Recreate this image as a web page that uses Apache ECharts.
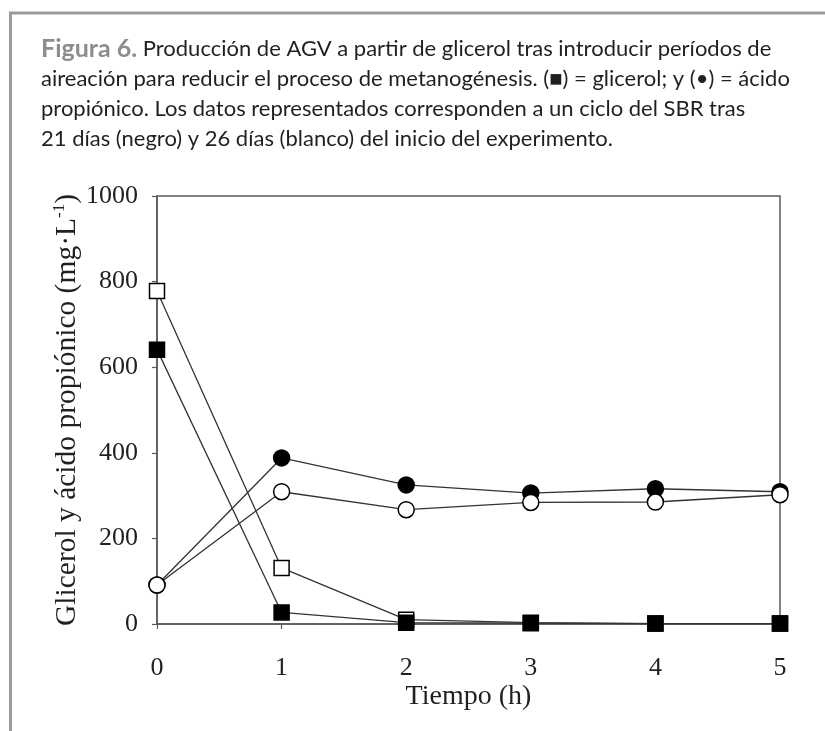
<!DOCTYPE html>
<html>
<head>
<meta charset="utf-8">
<script src="https://cdn.jsdelivr.net/npm/echarts@6/dist/echarts.min.js"></script>
<style>
html,body{margin:0;padding:0;background:#fff;}
#chart{width:825px;height:731px;}
</style>
</head>
<body>
<div id="chart"></div>
<script>
// Time (h)
const tiempo = [0, 1, 2, 3, 4, 5];
// Glicerol (mg/L)
const glicerol21 = [641, 27, 3, 2, 1, 1];      // negro (día 21)
const glicerol26 = [778, 131, 10, 3, 1, 1];    // blanco (día 26)
// Ácido propiónico (mg/L)
const propionico21 = [91, 388, 325, 306, 316, 309]; // negro
const propionico26 = [91, 309, 267, 284, 285, 302]; // blanco

const xTicks = [0, 1, 2, 3, 4, 5];
const yTicks = [0, 200, 400, 600, 800, 1000];

const captionLines = [
  'Producción de AGV a partir de glicerol tras introducir períodos de',
  'aireación para reducir el proceso de metanogénesis. (\u25A0) = glicerol; y (\u2022) = ácido',
  'propiónico. Los datos representados corresponden a un ciclo del SBR tras',
  '21 días (negro) y 26 días (blanco) del inicio del experimento.'
];

const pairs = arr => tiempo.map((t, i) => [t, arr[i]]);

const chart = echarts.init(document.getElementById('chart'), null, {renderer: 'canvas'});
const serif = 'Liberation Serif';
const ink = '#231f20';
const lineColor = '#333';

function mk(name, data, symbol, filled, size) {
  return {
    name, type: 'line', data: pairs(data),
    symbol, symbolSize: size, showSymbol: true,
    lineStyle: {color: lineColor, width: 1.3},
    itemStyle: {color: filled ? '#000' : '#fff', borderColor: '#000', borderWidth: 1.5, opacity: 1},
    emphasis: {disabled: true},
    animation: false
  };
}

chart.setOption({
  animation: false,
  backgroundColor: '#fff',
  title: {
    left: 36, top: 29,
    text: '{b|Figura 6.}{t| ' + captionLines[0] + '}\n' +
          captionLines.slice(1).map(l => '{t|' + l + '}').join('\n'),
    textStyle: {
      fontWeight: 'normal',
      rich: {
        b: {fontFamily: 'Lato', fontWeight: 'bold', fontSize: 25, color: '#8d8d8d', lineHeight: 30},
        t: {fontFamily: 'Lato', fontWeight: 'normal', fontSize: 22, color: ink, lineHeight: 30}
      }
    }
  },
  graphic: [
    {type: 'line', shape: {x1: 9, y1: 13, x2: 825, y2: 13}, style: {stroke: '#9a9a9a', lineWidth: 3}},
    {type: 'line', shape: {x1: 10.5, y1: 12, x2: 10.5, y2: 731}, style: {stroke: '#9a9a9a', lineWidth: 3}}
  ],
  grid: {left: 157, right: 45, top: 196, bottom: 107, outerBoundsMode: 'none', containLabel: false,
         show: true, borderColor: '#5a5a5a', borderWidth: 1.5, backgroundColor: 'transparent'},
  xAxis: {
    type: 'value', min: xTicks[0], max: xTicks[xTicks.length - 1], interval: 1,
    name: 'Tiempo (h)', nameLocation: 'middle', nameGap: 59, nameMoveOverlap: false,
    nameTextStyle: {fontFamily: serif, fontSize: 28, color: ink},
    axisLine: {lineStyle: {color: '#5a5a5a', width: 1.5}},
    axisTick: {show: true, inside: false, length: 5, lineStyle: {color: '#5a5a5a', width: 1.2}},
    axisLabel: {fontFamily: serif, fontSize: 26, color: ink, margin: 31},
    splitLine: {show: false}
  },
  yAxis: {
    type: 'value', min: yTicks[0], max: yTicks[yTicks.length - 1], interval: 200,
    name: '{n|Glicerol y ácido propiónico (mg·L}{s|-1}{n|)}',
    nameLocation: 'middle', nameGap: 74, nameMoveOverlap: false,
    nameTextStyle: {
      rich: {
        n: {fontFamily: serif, fontSize: 29.5, color: ink, lineHeight: 32},
        s: {fontFamily: serif, fontSize: 17, color: ink, lineHeight: 17, verticalAlign: 'top'}
      }
    },
    axisLine: {lineStyle: {color: '#5a5a5a', width: 1.5}},
    axisTick: {show: true, inside: false, length: 5, lineStyle: {color: '#5a5a5a', width: 1.2}},
    axisLabel: {fontFamily: serif, fontSize: 26, color: ink, margin: 19, formatter: v => String(v)},
    splitLine: {show: false}
  },
  series: [
    mk('Glicerol 26 d', glicerol26, 'rect', false, 15),
    mk('Glicerol 21 d', glicerol21, 'rect', true, 15),
    mk('Ácido propiónico 21 d', propionico21, 'circle', true, 16),
    mk('Ácido propiónico 26 d', propionico26, 'circle', false, 16)
  ]
});
</script>
</body>
</html>
